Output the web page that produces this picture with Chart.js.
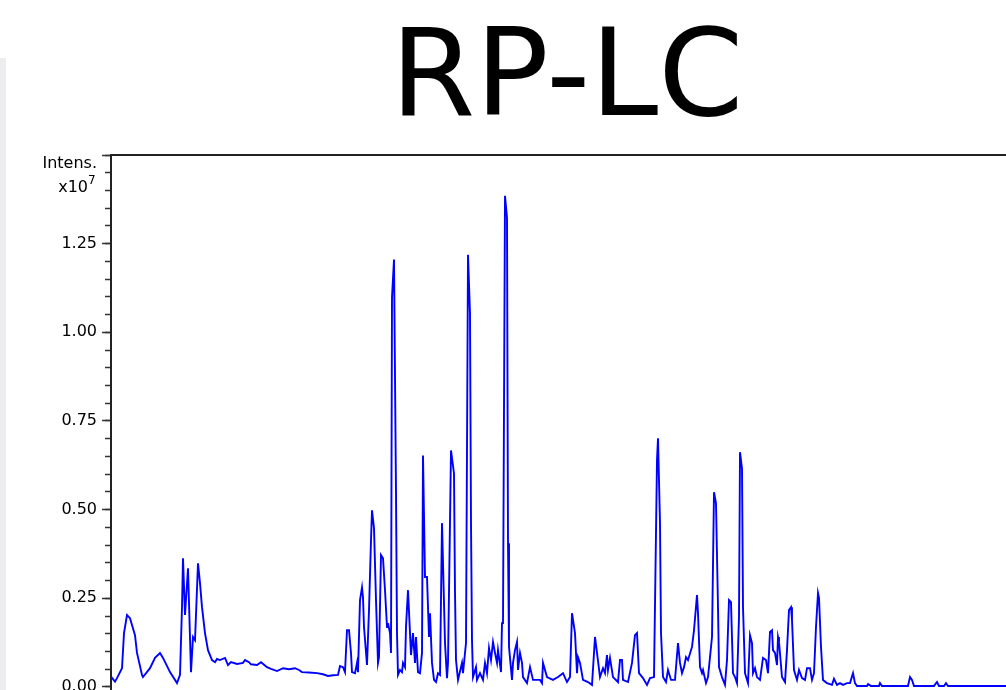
<!DOCTYPE html>
<html>
<head>
<meta charset="utf-8">
<script src="https://cdn.jsdelivr.net/npm/chart.js@4.4.1/dist/chart.umd.min.js"></script>
<style>
html, body { margin: 0; padding: 0; overflow: hidden; background: #fff; width: 1006px; height: 690px; }
#strip { position: absolute; left: 0; top: 58px; width: 6px; height: 640px; background: #ededf0; }
#chart { position: absolute; left: 0; top: 0; }
</style>
</head>
<body>
<div id="strip"></div>
<canvas id="chart" width="1111" height="712"></canvas>
<script>
var titel = "RP-LC";
var yTitle = "Intens.";
var yExp = "x10";
var yExpSup = "7";

// labelled y ticks (x10^7)
var majorTicks = [0, 0.25, 0.5, 0.75, 1.0, 1.25];

// retention time (min)
var times = [
  0,0.2,0.3,0.55,0.65,0.8,0.95,1.2,1.3,1.55,
  1.6,1.95,2.2,2.45,2.6,2.95,3.3,3.45,3.55,3.6,
  3.7,3.85,4.0,4.1,4.2,4.35,4.45,4.55,4.7,4.85,
  5.05,5.2,5.3,5.45,5.7,5.85,6.0,6.3,6.6,6.7,6.9,7.0,7.3,7.5,7.8,8.0,8.3,8.6,
  8.9,9.2,9.4,9.55,9.9,10.3,10.6,10.85,11.1,11.35,11.45,11.6,11.7,11.8,11.9,
  12.0,12.05,12.2,12.3,12.35,12.45,12.55,12.6,12.65,12.8,
  12.9,13.0,13.05,13.15,13.25,13.35,13.4,13.5,13.6,13.7,
  13.8,13.85,13.95,14.0,14.05,14.15,14.25,14.3,14.35,14.45,
  14.55,14.6,14.7,14.75,14.85,14.95,15.0,15.1,15.2,15.25,
  15.35,15.45,15.55,15.6,15.7,15.8,15.85,15.9,15.95,16.05,
  16.15,16.25,16.35,16.45,16.55,16.7,16.8,16.85,17.0,17.15,
  17.2,17.25,17.35,17.55,17.6,17.75,17.85,17.95,18.0,18.05,
  18.1,18.25,18.3,18.45,18.6,18.7,18.8,18.9,19.0,19.1,
  19.2,19.3,19.35,19.5,19.55,19.6,19.7,19.8,19.85,19.9,
  20.05,20.1,20.2,20.3,20.35,20.45,20.55,20.6,20.8,20.95,
  21.1,21.3,21.45,21.55,21.6,21.8,22.1,22.35,22.6,22.8,
  22.95,23.05,23.2,23.3,23.35,23.45,23.6,23.85,24.05,24.2,
  24.3,24.45,24.6,24.7,24.8,24.85,24.95,25.1,25.35,25.45,
  25.55,25.6,25.85,26.05,26.2,26.3,26.4,26.6,26.8,26.95,
  27.15,27.3,27.35,27.45,27.5,27.6,27.75,27.85,28.0,28.2,
  28.35,28.45,28.55,28.65,28.75,28.85,29.05,29.15,29.3,29.35,
  29.45,29.55,29.6,29.75,29.85,30.05,30.15,30.25,30.35,30.4,
  30.55,30.7,30.8,30.9,31.0,31.1,31.2,31.3,31.4,31.45,
  31.55,31.6,31.7,31.85,31.95,32.05,32.1,32.2,32.3,32.45,
  32.6,32.75,32.85,32.95,33.05,33.1,33.2,33.3,33.35,33.4,
  33.55,33.7,33.8,33.9,34.0,34.05,34.15,34.3,34.4,34.55,
  34.7,34.8,34.95,35.05,35.15,35.25,35.35,35.4,35.5,35.6,
  35.8,36.05,36.15,36.3,36.45,36.6,36.8,36.95,37.1,37.2,
  37.3,37.8,37.85,38.0,38.4,38.45,38.55,39.85,39.95,40.05,
  40.15,41.15,41.3,41.4,41.65,41.75,41.85,50
];

// intensity (x10^7)
var intens = [
  0.029,0.015,0.025,0.053,0.152,0.203,0.194,0.146,0.096,0.034,
  0.028,0.053,0.082,0.096,0.082,0.042,0.011,0.034,0.225,0.363,
  0.203,0.335,0.042,0.141,0.132,0.349,0.293,0.225,0.152,0.104,
  0.076,0.070,0.079,0.076,0.082,0.062,0.070,0.065,0.068,0.076,0.070,0.064,0.062,0.070,0.056,0.051,0.045,0.053,
  0.050,0.053,0.048,0.042,0.041,0.039,0.036,0.031,0.033,0.034,0.059,0.056,0.042,0.160,0.160,
  0.096,0.042,0.039,0.068,0.042,0.245,0.281,0.253,0.169,0.062,
  0.217,0.414,0.498,0.448,0.245,0.068,0.084,0.372,0.363,0.273,
  0.169,0.180,0.152,0.096,1.098,1.205,0.546,0.152,0.034,0.048,
  0.042,0.068,0.056,0.169,0.273,0.152,0.090,0.152,0.068,0.141,
  0.042,0.039,0.096,0.653,0.310,0.310,0.225,0.141,0.208,0.068,
  0.020,0.014,0.039,0.034,0.462,0.124,0.025,0.068,0.667,0.602,
  0.267,0.076,0.020,0.068,0.039,0.124,1.219,1.053,0.462,0.132,
  0.028,0.056,0.020,0.039,0.020,0.068,0.039,0.110,0.076,0.127,
  0.096,0.068,0.104,0.042,0.180,0.180,1.385,1.323,0.405,0.113,
  0.020,0.068,0.104,0.127,0.048,0.096,0.068,0.028,0.011,0.056,
  0.020,0.020,0.020,0.011,0.068,0.028,0.020,0.028,0.039,0.014,
  0.028,0.208,0.152,0.039,0.084,0.068,0.020,0.014,0.006,0.141,
  0.096,0.028,0.053,0.039,0.090,0.048,0.082,0.028,0.014,0.076,
  0.076,0.020,0.014,0.068,0.146,0.152,0.039,0.025,0.006,0.025,
  0.028,0.639,0.701,0.462,0.152,0.028,0.014,0.048,0.020,0.020,
  0.124,0.068,0.039,0.056,0.084,0.076,0.113,0.160,0.259,0.208,
  0.056,0.039,0.048,0.011,0.028,0.141,0.549,0.518,0.225,0.056,
  0.028,0.006,0.076,0.245,0.239,0.039,0.028,0.011,0.197,0.662,
  0.616,0.225,0.039,0.011,0.146,0.124,0.039,0.053,0.028,0.020,
  0.082,0.076,0.039,0.155,0.160,0.104,0.096,0.062,0.141,0.127,
  0.028,0.014,0.104,0.217,0.225,0.189,0.048,0.020,0.048,0.025,
  0.020,0.053,0.053,0.020,0.039,0.169,0.265,0.251,0.113,0.020,
  0.011,0.006,0.023,0.006,0.011,0.006,0.011,0.011,0.039,0.011,
  0.003,0.003,0.008,0.003,0.003,0.011,0.003,0.003,0.028,0.020,
  0.003,0.003,0.014,0.003,0.003,0.011,0.003,0.003
];

var yMin = -0.0141, yMax = 1.5;
var xMin = 0, xMax = 50;

var pisteet = [];
for (let i = 0; i < times.length; i++) {
  pisteet.push({ x: times[i], y: intens[i] });
}

// title + axis caption
var tekstit = {
  id: 'tekstit',
  afterDraw: function (chart) {
    var ctx = chart.ctx;
    var ca = chart.chartArea;
    ctx.save();
    ctx.fillStyle = '#000';
    ctx.textBaseline = 'alphabetic';
    ctx.textAlign = 'center';
    ctx.font = '122px "DejaVu Sans"';
    ctx.fillText(titel, 567, 115);
    ctx.textAlign = 'right';
    ctx.font = '16px "DejaVu Sans"';
    ctx.fillText(yTitle, ca.left - 14, ca.top + 13);
    ctx.fillText(yExp, ca.left - 23, ca.top + 37);
    ctx.textAlign = 'left';
    ctx.font = '12px "DejaVu Sans"';
    ctx.fillText(yExpSup, ca.left - 23, ca.top + 29);
    ctx.restore();
  }
};

var majorLabel = function (value) {
  for (let m of majorTicks) {
    if (Math.abs(m - value) < 1e-6) return value.toFixed(2);
  }
  return '';
};

new Chart(document.getElementById('chart'), {
  type: 'line',
  data: {
    datasets: [{
      label: 'RP-LC',
      data: pisteet,
      borderColor: '#0000ff',
      borderWidth: 1.9,
      pointRadius: 0,
      tension: 0,
      fill: false
    }]
  },
  options: {
    responsive: false,
    animation: false,
    devicePixelRatio: 1,
    layout: { padding: { top: 155, left: 0, right: 0, bottom: 0 } },
    plugins: {
      legend: { display: false },
      tooltip: { enabled: false },
      title: { display: false }
    },
    scales: {
      x: {
        type: 'linear', position: 'bottom', min: xMin, max: xMax,
        ticks: { display: false },
        grid: { drawOnChartArea: false, drawTicks: false },
        border: { display: false },
        afterFit: function (s) { s.height = 20; }
      },
      xTop: {
        type: 'linear', position: 'top', min: xMin, max: xMax,
        ticks: { display: false },
        grid: { drawOnChartArea: false, drawTicks: false },
        border: { display: true, color: '#222', width: 2 },
        afterFit: function (s) { s.height = 0; }
      },
      y: {
        type: 'linear', position: 'left', weight: 1, min: yMin, max: yMax,
        ticks: {
          stepSize: 0.25, includeBounds: false, padding: 5,
          color: '#000', font: { family: 'DejaVu Sans', size: 16 },
          callback: majorLabel
        },
        grid: { drawOnChartArea: false, tickLength: 9, tickColor: '#333', tickWidth: 1.5 },
        border: { display: true, color: '#222', width: 2 },
        afterFit: function (s) { s.width = 111; }
      },
      yMinor: {
        type: 'linear', position: 'left', weight: 0, min: yMin, max: yMax,
        ticks: { display: false, stepSize: 0.05, includeBounds: false },
        grid: { drawOnChartArea: false, tickLength: 6, tickColor: '#333', tickWidth: 1.5 },
        border: { display: false },
        afterFit: function (s) { s.width = 0; }
      }
    }
  },
  plugins: [tekstit]
});
</script>
</body>
</html>
